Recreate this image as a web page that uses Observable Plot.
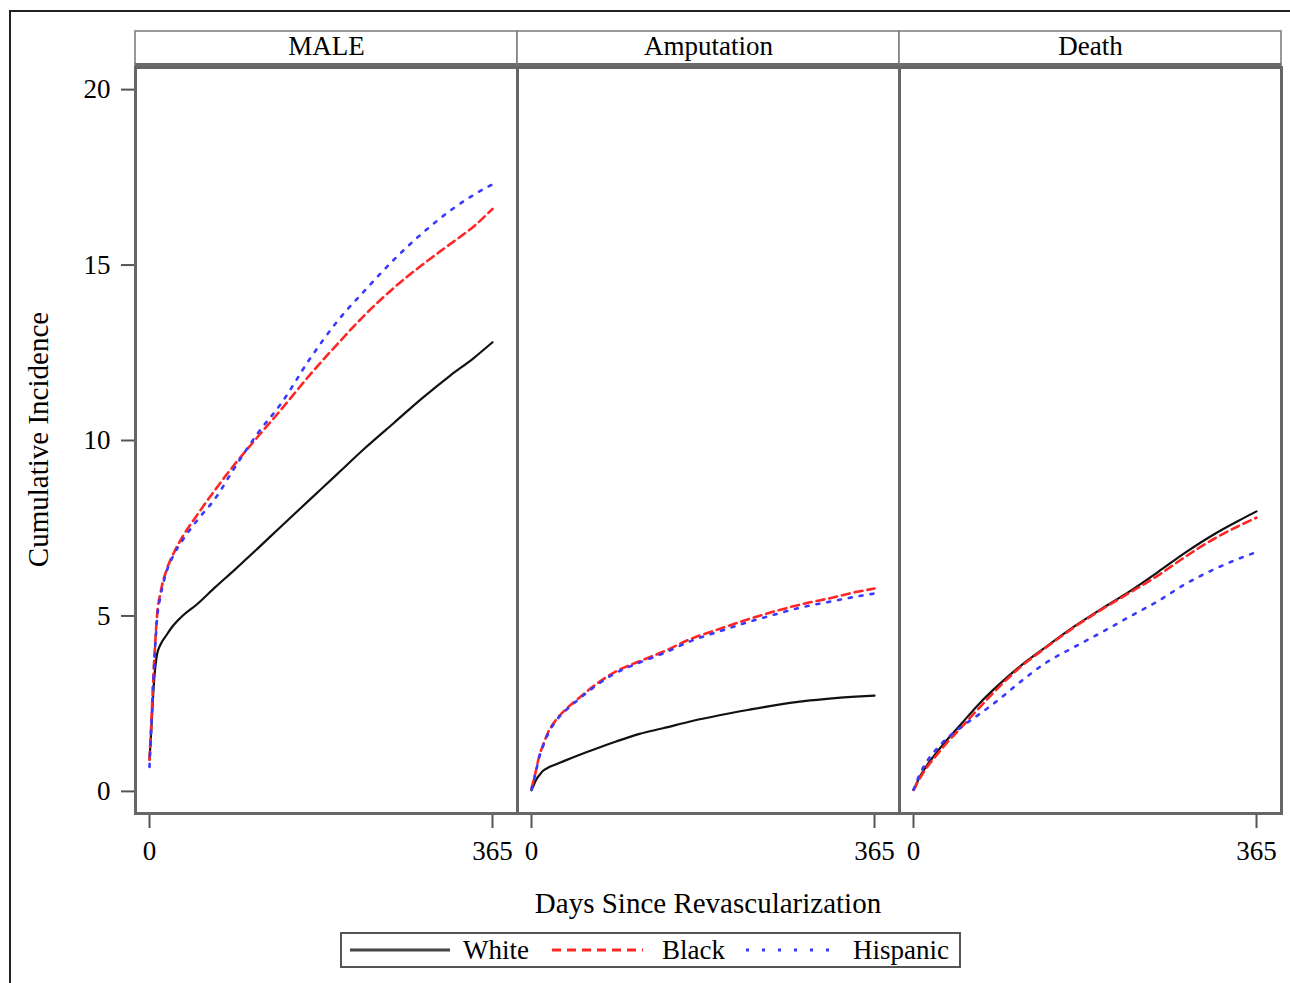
<!DOCTYPE html>
<html>
<head>
<meta charset="utf-8">
<script src="https://cdn.jsdelivr.net/npm/d3@7"></script>
<script src="https://cdn.jsdelivr.net/npm/@observablehq/plot@0.6"></script>
<style>
  html, body { margin: 0; padding: 0; background: #fff; }
  #wrap { position: relative; width: 1290px; height: 983px; overflow: hidden; font-family: "Liberation Serif", "DejaVu Serif", serif; color: #000; }
  #outer { position: absolute; left: 9px; top: 10px; width: 1320px; height: 1020px; border: 2px solid #222; box-sizing: border-box; }
  #chart { position: absolute; left: 0; top: 0; }
  #xlabel { position: absolute; left: 408px; width: 600px; top: 889px; text-align: center; font-size: 29px; line-height: 29px; white-space: nowrap; }
  #ylabel { position: absolute; width: 400px; height: 29px; line-height: 29px; font-size: 29px; text-align: center; white-space: nowrap;
            left: -162.5px; top: 424.5px; transform: rotate(-90deg); transform-origin: 50% 50%; }
  #legend { position: absolute; left: 340px; top: 932px; width: 621px; height: 36px; border: 2px solid #555; box-sizing: border-box; background: #fff; }
  #legend .lab { position: absolute; font-size: 27px; line-height: 27px; top: 3px; white-space: nowrap; }
</style>
</head>
<body>
<div id="wrap">
  <div id="outer"></div>
  <div id="chart"></div>
  <div id="ylabel">Cumulative Incidence</div>
  <div id="xlabel">Days Since Revascularization</div>
  <div id="legend"></div>
</div>
<script>
// ---- data ----
const panels = ["MALE", "Amputation", "Death"];
const races = ["White", "Black", "Hispanic"];
const days = [0, 2, 4, 6, 8, 12, 18, 25, 35, 50, 70, 90, 115, 140, 170, 200, 230, 260, 290, 320, 345, 365];

const maleWhite    = [0.9, 1.8, 2.8, 3.5, 3.9, 4.2, 4.45, 4.72, 5.0, 5.32, 5.82, 6.3, 6.92, 7.55, 8.3, 9.05, 9.8, 10.5, 11.2, 11.85, 12.35, 12.8];
const maleBlack    = [0.9, 2.0, 3.2, 4.2, 5.0, 5.7, 6.3, 6.75, 7.25, 7.85, 8.6, 9.3, 10.1, 10.88, 11.85, 12.75, 13.6, 14.35, 15.0, 15.6, 16.1, 16.6];
const maleHispanic = [0.7, 1.9, 3.1, 4.1, 4.9, 5.6, 6.25, 6.7, 7.15, 7.7, 8.35, 9.2, 10.2, 11.05, 12.3, 13.4, 14.3, 15.15, 15.9, 16.55, 17.0, 17.3];

const ampWhite     = [0.03, 0.15, 0.28, 0.38, 0.45, 0.58, 0.68, 0.76, 0.87, 1.03, 1.23, 1.42, 1.64, 1.8, 2.0, 2.17, 2.32, 2.46, 2.57, 2.65, 2.7, 2.73];
const ampBlack     = [0.08, 0.3, 0.5, 0.75, 0.98, 1.3, 1.7, 2.0, 2.3, 2.65, 3.08, 3.42, 3.71, 3.98, 4.35, 4.63, 4.9, 5.14, 5.35, 5.52, 5.68, 5.78];
const ampHispanic  = [0.05, 0.28, 0.48, 0.72, 0.95, 1.27, 1.66, 1.97, 2.27, 2.62, 3.04, 3.38, 3.67, 3.93, 4.29, 4.56, 4.82, 5.05, 5.26, 5.42, 5.55, 5.64];

const deathWhite    = [0.05, 0.15, 0.27, 0.38, 0.48, 0.65, 0.88, 1.12, 1.45, 1.9, 2.5, 3.02, 3.6, 4.1, 4.68, 5.2, 5.7, 6.25, 6.82, 7.33, 7.7, 7.98];
const deathBlack    = [0.04, 0.13, 0.24, 0.34, 0.43, 0.6, 0.82, 1.05, 1.37, 1.8, 2.38, 2.95, 3.57, 4.08, 4.66, 5.18, 5.66, 6.15, 6.7, 7.2, 7.55, 7.8];
const deathHispanic = [0.05, 0.18, 0.32, 0.45, 0.56, 0.76, 1.0, 1.22, 1.5, 1.82, 2.2, 2.6, 3.15, 3.65, 4.1, 4.53, 4.98, 5.42, 5.92, 6.33, 6.62, 6.82];

const xTicks = [0, 365];
const yTicks = [0, 5, 10, 15, 20];

const raceColors = {White: "#111111", Black: "#ff2626", Hispanic: "#3a3aff"};
const raceDash = {White: null, Black: "8,5", Hispanic: "3,8"};

// ---- table built from the arrays ----
const seriesTable = [
  ["MALE", "White", maleWhite], ["MALE", "Black", maleBlack], ["MALE", "Hispanic", maleHispanic],
  ["Amputation", "White", ampWhite], ["Amputation", "Black", ampBlack], ["Amputation", "Hispanic", ampHispanic],
  ["Death", "White", deathWhite], ["Death", "Black", deathBlack], ["Death", "Hispanic", deathHispanic]
];
const rows = [];
for (const [panel, race, vals] of seriesTable) {
  vals.forEach((v, i) => rows.push({panel, race, day: days[i], ci: v}));
}

const lineMark = (race) => Plot.line(rows.filter(d => d.race === race), {
  x: "day", y: "ci", fx: "panel", z: "panel",
  stroke: raceColors[race],
  strokeWidth: race === "White" ? 2.2 : 2.6,
  strokeDasharray: raceDash[race],
  curve: "monotone-x"
});

const chart = Plot.plot({
  width: 1290,
  height: 870,
  marginLeft: 135,
  marginRight: 9,
  marginTop: 67,
  marginBottom: 57,
  style: {fontFamily: "Liberation Serif", fontSize: "27px", background: "transparent", overflow: "visible", color: "#000"},
  fx: {domain: panels, padding: 0, axis: null, label: null},
  x: {domain: [-14.9, 391.6], axis: null},
  y: {domain: [-0.63, 20.63], axis: null},
  marks: [
    Plot.axisY({ticks: yTicks, anchor: "left", tickSize: 14, tickPadding: 11, stroke: "#555", strokeWidth: 2, fontSize: 27, label: null}),
    Plot.axisX({ticks: xTicks, anchor: "bottom", tickSize: 15, tickPadding: 12, stroke: "#555", strokeWidth: 2, fontSize: 27, label: null}),
    Plot.axisFx({anchor: "top", tickSize: 0, tickPadding: 13, fontSize: 27, label: null}),
    lineMark("White"),
    lineMark("Black"),
    lineMark("Hispanic"),
    Plot.frame({stroke: "#666", strokeWidth: 3})
  ]
});
document.getElementById("chart").appendChild(chart);

// ---- facet header boxes (positions from the fx scale) ----
const fx = chart.scale("fx");
const firstG = chart.querySelector("g");
const hdr = document.createElementNS("http://www.w3.org/2000/svg", "g");
chart.insertBefore(hdr, firstG);
const H = d3.select(hdr);
let offset = 0;
const r0 = fx.range ? fx.range[0] : 135;
if (r0 < 100) offset = 135; // range relative to plot area
for (const p of panels) {
  const x0 = fx.apply(p) + offset;
  const bw = fx.bandwidth;
  H.append("rect").attr("x", x0).attr("y", 31).attr("width", bw).attr("height", 35)
    .attr("fill", "#fff").attr("stroke", "#808080").attr("stroke-width", 1.6);
  H.append("line").attr("x1", x0).attr("x2", x0 + bw).attr("y1", 65).attr("y2", 65)
    .attr("stroke", "#6a6a6a").attr("stroke-width", 4);
}

// ---- legend ----
const legend = d3.select("#legend");
const legendItems = [
  {race: "White", x0: 8, x1: 108, tx: 121},
  {race: "Black", x0: 210, x1: 301, tx: 320},
  {race: "Hispanic", x0: 404, x1: 487, tx: 511}
];
for (const it of legendItems) {
  const s = legend.append("svg").style("position", "absolute").style("left", it.x0 + "px").style("top", "0px")
    .attr("width", it.x1 - it.x0).attr("height", 32);
  s.append("line").attr("x1", 0).attr("x2", it.x1 - it.x0).attr("y1", 16).attr("y2", 16)
    .attr("stroke", it.race === "White" ? "#444" : raceColors[it.race])
    .attr("stroke-width", 3)
    .attr("stroke-dasharray", it.race === "Black" ? "9,6" : it.race === "Hispanic" ? "3,13" : null);
  legend.append("div").attr("class", "lab").style("left", it.tx + "px").text(it.race);
}
</script>
</body>
</html>
